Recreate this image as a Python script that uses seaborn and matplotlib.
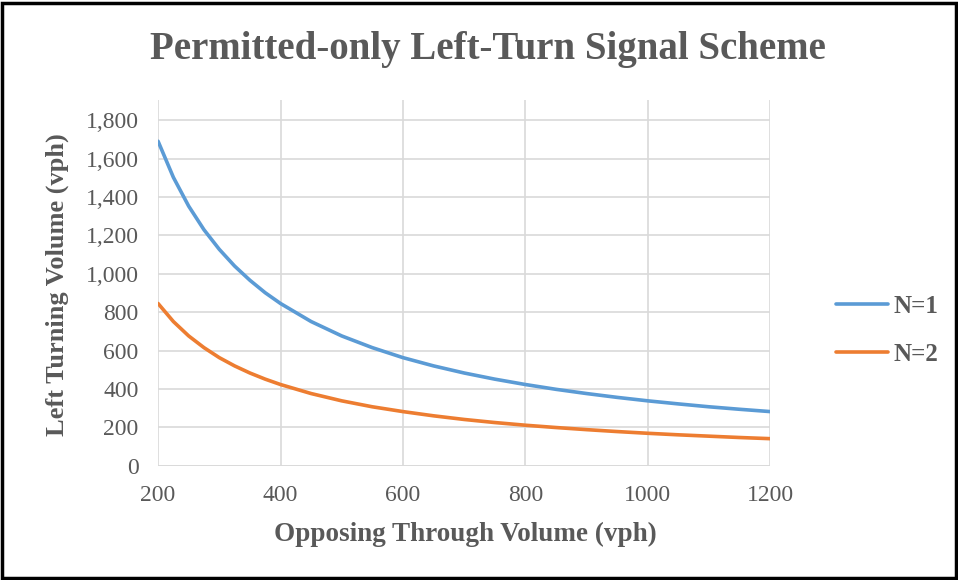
import pandas as pd
import seaborn as sns
import matplotlib.pyplot as plt

sns.set_style("white")
plt.rcParams['font.family'] = ['Liberation Serif', 'DejaVu Serif']

# values
opposing = [200, 225, 250, 275, 300, 325, 350, 375, 400, 450, 500, 550, 600, 650, 700,
            750, 800, 850, 900, 950, 1000, 1050, 1100, 1150, 1200]
n1 = [1690, 1502, 1352, 1229, 1127, 1040, 966, 901, 845, 751, 676, 615, 563, 520, 483,
      451, 423, 398, 376, 356, 338, 322, 307, 294, 282]
n2 = [845, 751, 676, 615, 563, 520, 483, 451, 423, 376, 338, 307, 282, 260, 241,
      225, 211, 199, 188, 178, 169, 161, 154, 147, 141]
yticks = [0, 200, 400, 600, 800, 1000, 1200, 1400, 1600, 1800]
xticks = [200, 400, 600, 800, 1000, 1200]

df = pd.DataFrame({"x": opposing * 2, "y": n1 + n2,
                   "series": ["N=1"] * len(n1) + ["N=2"] * len(n2)})

grey = "#595959"
fig = plt.figure(figsize=(9.58, 5.8), dpi=100)
ax = fig.add_axes([0.165, 0.197, 0.639, 0.631])
sns.lineplot(data=df, x="x", y="y", hue="series", palette=["#5B9BD5", "#ED7D31"],
             linewidth=2.6, ax=ax)

ax.set_xlim(200, 1200)
ax.set_ylim(0, 1906)
ax.set_xticks(xticks)
ax.set_yticks(yticks)
ax.set_yticklabels(["{:,}".format(v) for v in yticks])
ax.grid(True, color="#D9D9D9", linewidth=1.2)
for s in ax.spines.values():
    s.set_visible(False)
ax.axhline(0, color="#D9D9D9", linewidth=1.2, zorder=0)
ax.tick_params(length=0, labelsize=17, colors=grey, pad=14)

ax.set_xlabel("Opposing Through Volume (vph)", fontsize=19.5, fontweight="bold",
              color=grey, va="center")
ax.set_ylabel("Left Turning Volume (vph)", fontsize=19, fontweight="bold",
              color=grey, va="center")
ax.xaxis.set_label_coords(0.502, -0.189)
ax.yaxis.set_label_coords(-0.165, 0.495)
fig.text(0.509, 0.914, "Permitted-only Left-Turn Signal Scheme", ha="center",
         va="center", fontsize=28, fontweight="bold", color=grey)

leg = ax.legend(loc="center left", bbox_to_anchor=(1.107, 0.37), frameon=False,
                fontsize=18, handlelength=2.1, labelspacing=1.0, handletextpad=0.2,
                borderpad=0, borderaxespad=0)
for t in leg.get_texts():
    t.set_color(grey)
    t.set_fontweight("bold")

fig.patches.append(plt.Rectangle((0.002, 0.003), 0.996, 0.992, transform=fig.transFigure,
                                 fill=False, edgecolor="black", linewidth=2.5))

fig.savefig("out.png", dpi=100)
